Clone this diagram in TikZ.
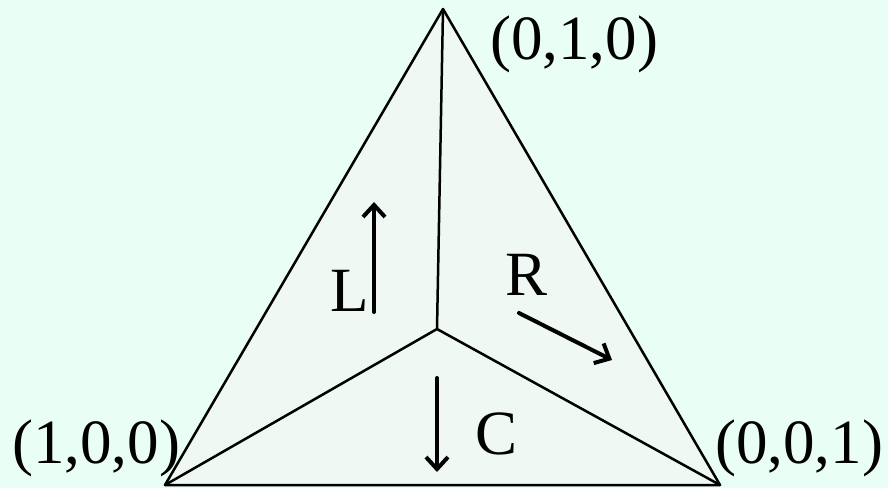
\documentclass[tikz,border=0pt]{standalone}
\usepackage{fontspec}
\setmainfont{Liberation Serif}
\usetikzlibrary{calc,arrows.meta}

\definecolor{bgmint}{RGB}{233,255,245}
\definecolor{trifill}{RGB}{239,248,242}

\begin{document}
\begin{tikzpicture}[x=1pt, y=-1pt, >={Straight Barb[length=12pt,width=22pt,line width=4pt]},
  line cap=round, line join=round,
  font=\fontsize{63}{70}\selectfont,
  lbl/.style={anchor=base west, inner sep=0pt}]

  % ===== 背景 =====
  \fill[bgmint] (0,0) rectangle (888,488);
  \useasboundingbox (0,0) rectangle (888,488);

  % ===== 頂点 =====
  \coordinate (A) at (165,485);   % (1,0,0)
  \coordinate (B) at (443,9);     % (0,1,0)
  \coordinate (Cc) at (720,485);  % (0,0,1)
  \coordinate (O) at (437,329);   % 中心

  % ===== 三角形 =====
  \filldraw[fill=trifill, line width=2.5pt] (A) -- (B) -- (Cc) -- cycle;
  \draw[line width=2.5pt] (O) -- (A);
  \draw[line width=2.5pt] (O) -- (B);
  \draw[line width=2.5pt] (O) -- (Cc);

  % ===== 頂点ラベル =====
  \node[lbl] (lb) at (490,59) {(0,1,0)};
  \node[lbl] (la) at (12,463) {(1,0,0)};
  \node[lbl] (lc) at (715,463) {(0,0,1)};

  % ===== 矢印 =====
  \coordinate (L0) at (374,312);
  \coordinate (L1) at (374,202);
  \coordinate (R0) at (519,313);
  \coordinate (R1) at (612,360);
  \coordinate (C0) at (437,378);
  \coordinate (C1) at (437,472);

  \draw[->, line width=4pt] (L0) -- (L1);
  \draw[->, line width=4pt] (R0) -- (R1);
  \draw[->, line width=4pt] (C0) -- (C1);

  % ---- L, R, C ----
  \node[lbl] (nL) at (330,311) {L};
  \node[lbl] (nR) at (505,295) {R};
  \node[lbl] (nC) at (475,454) {C};

\end{tikzpicture}
\end{document}
